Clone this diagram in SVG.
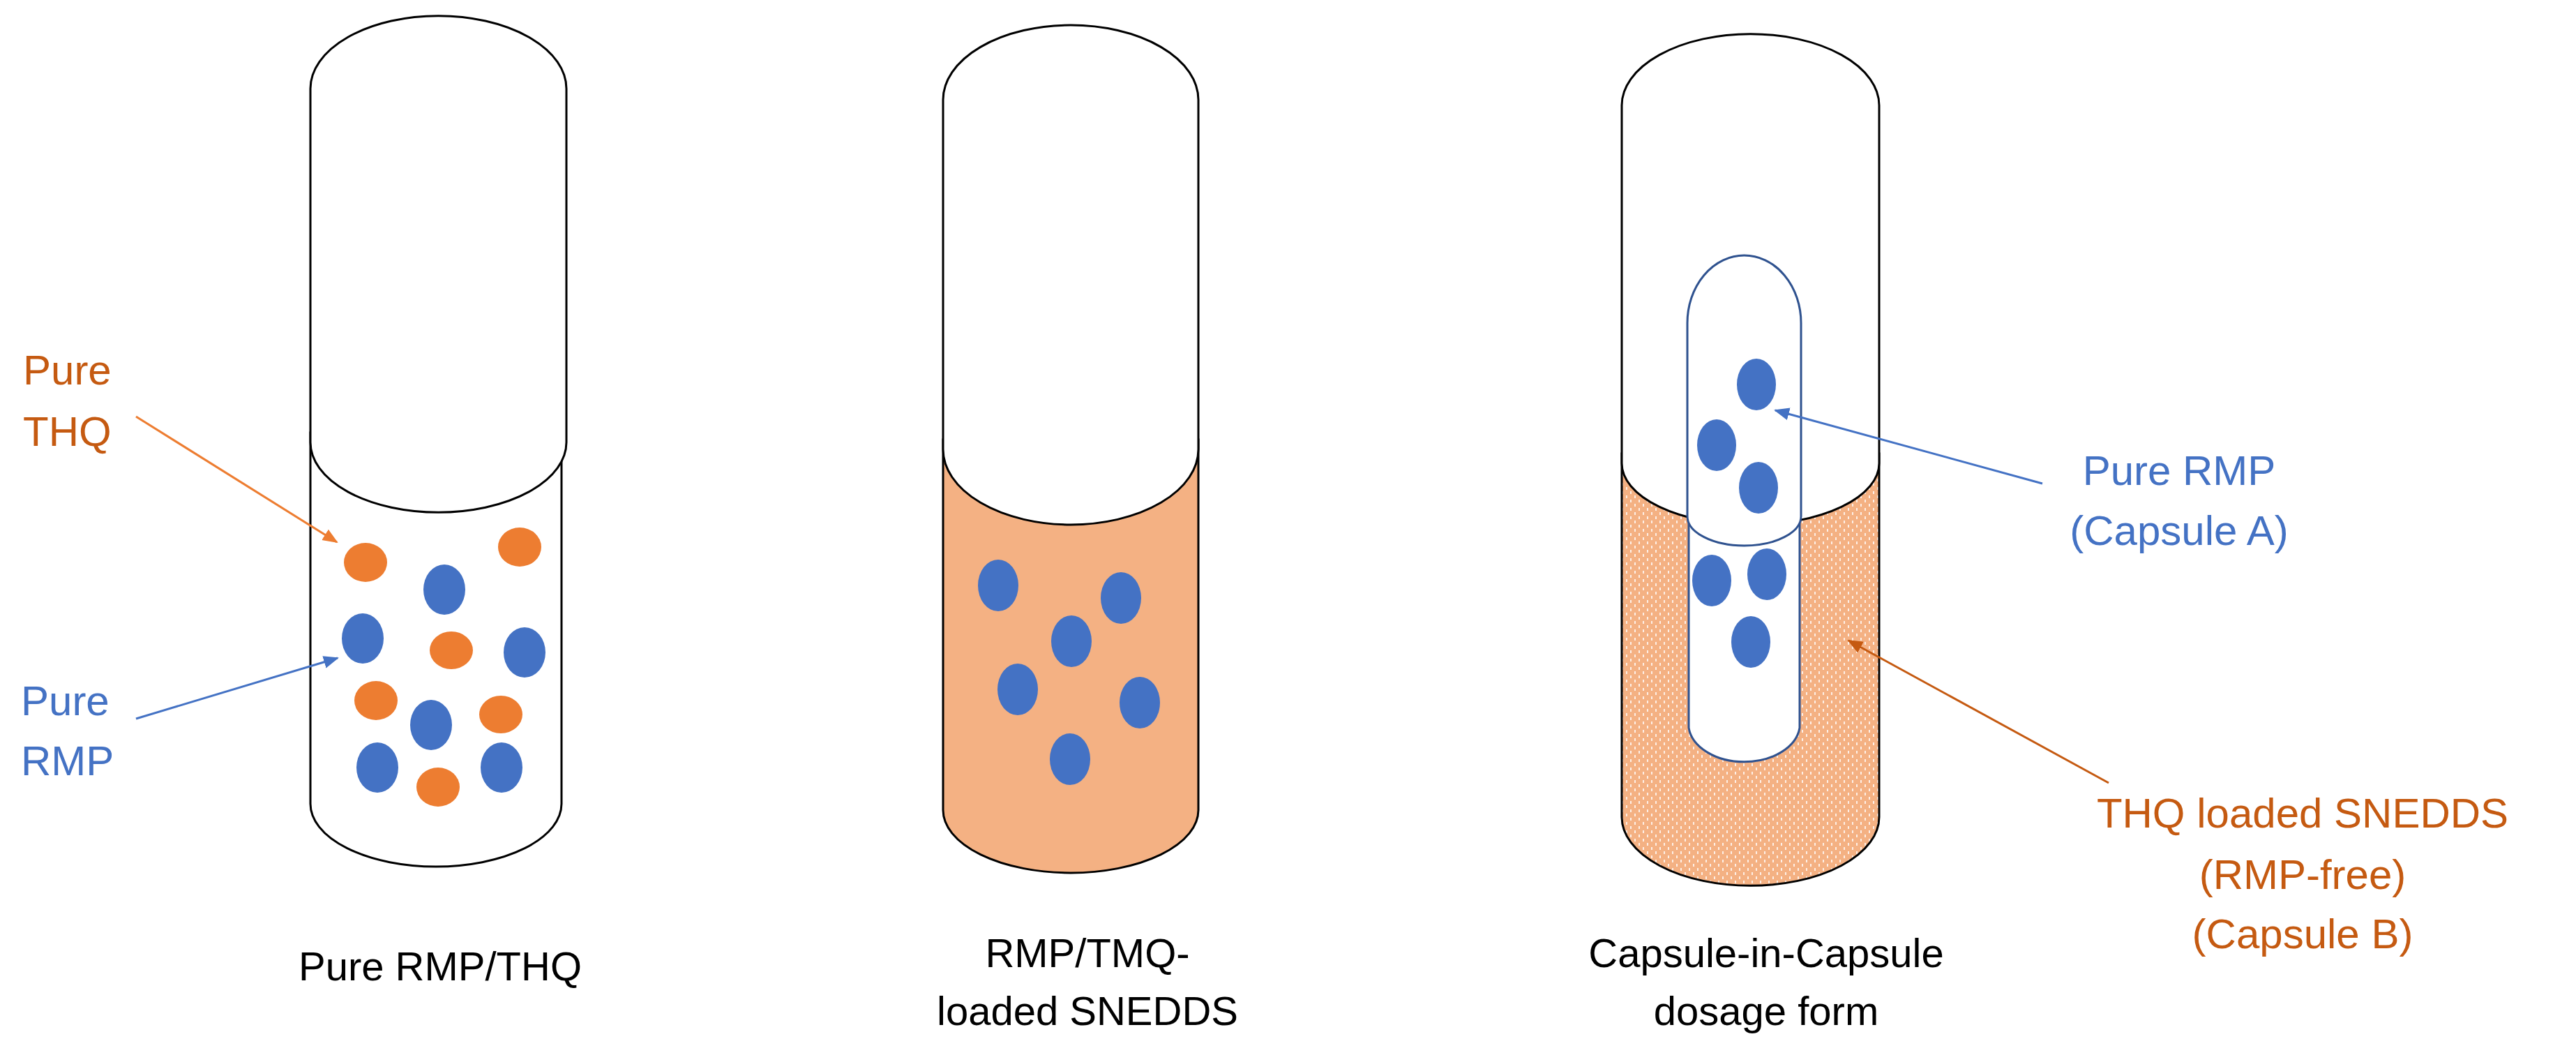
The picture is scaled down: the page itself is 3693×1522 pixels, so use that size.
<svg xmlns="http://www.w3.org/2000/svg" width="3693" height="1522" viewBox="0 0 3693 1522">
<defs>
<pattern id="dots" width="12" height="12" patternUnits="userSpaceOnUse">
<rect width="12" height="12" fill="#F4B183"/>
<rect x="3" y="2" width="2" height="4" fill="#fff" opacity="0.8"/>
<rect x="9" y="8" width="2" height="4" fill="#fff" opacity="0.8"/>
</pattern>
<marker id="ab" markerWidth="22" markerHeight="22" refX="20" refY="11" orient="auto" markerUnits="userSpaceOnUse"><path d="M0,2 L22,11 L0,20 Z" fill="#4472C4"/></marker>
<marker id="ao2" markerWidth="22" markerHeight="22" refX="20" refY="11" orient="auto" markerUnits="userSpaceOnUse"><path d="M0,2 L22,11 L0,20 Z" fill="#ED7D31"/></marker>
<marker id="ad" markerWidth="22" markerHeight="22" refX="20" refY="11" orient="auto" markerUnits="userSpaceOnUse"><path d="M0,2 L22,11 L0,20 Z" fill="#C55A11"/></marker>
</defs>
<style>
.sh{stroke:#000;stroke-width:3}
.b{fill:#4472C4}
.o{fill:#ED7D31}
text{font-family:"Liberation Sans",Arial,sans-serif;font-size:58px}
.lb{fill:#4472C4;font-size:60px}
.lo{fill:#C55A11;font-size:60px}
</style>
<rect width="3693" height="1522" fill="#fff"/>

<g id="capsule1">
<path class="sh" fill="#fff" d="M445,620 L445,1152 A180,90 0 0 0 805,1152 L805,620 Z"/>
<path class="sh" fill="#fff" d="M445,634 L445,127 A183,104 0 0 1 812,127 L812,634 A183,100 0 0 1 445,634 Z"/>
<ellipse class="o" cx="524" cy="806" rx="31" ry="28"/>
<ellipse class="o" cx="745" cy="784" rx="31" ry="28"/>
<ellipse class="o" cx="647" cy="932" rx="31" ry="27"/>
<ellipse class="o" cx="539" cy="1004" rx="31" ry="28"/>
<ellipse class="o" cx="718" cy="1024" rx="31" ry="27"/>
<ellipse class="o" cx="628" cy="1128" rx="31" ry="28"/>
<ellipse class="b" cx="637" cy="845" rx="30" ry="36"/>
<ellipse class="b" cx="520" cy="915" rx="30" ry="36"/>
<ellipse class="b" cx="752" cy="935" rx="30" ry="36"/>
<ellipse class="b" cx="618" cy="1039" rx="30" ry="36"/>
<ellipse class="b" cx="541" cy="1100" rx="30" ry="36"/>
<ellipse class="b" cx="719" cy="1100" rx="30" ry="36"/>
<text x="631" y="1405" text-anchor="middle">Pure RMP/THQ</text>
</g>

<g id="capsule2">
<path class="sh" fill="#F4B183" d="M1352,630 L1352,1161 A183,90 0 0 0 1718,1161 L1718,630 Z"/>
<path class="sh" fill="#fff" d="M1352,644 L1352,143 A183,107 0 0 1 1718,143 L1718,644 A183,108 0 0 1 1352,644 Z"/>
<ellipse class="b" cx="1431" cy="839" rx="29" ry="37"/>
<ellipse class="b" cx="1607" cy="857" rx="29" ry="37"/>
<ellipse class="b" cx="1536" cy="919" rx="29" ry="37"/>
<ellipse class="b" cx="1459" cy="988" rx="29" ry="37"/>
<ellipse class="b" cx="1634" cy="1007" rx="29" ry="37"/>
<ellipse class="b" cx="1534" cy="1088" rx="29" ry="37"/>
<text x="1559" y="1386" text-anchor="middle">RMP/TMQ-</text>
<text x="1559" y="1469" text-anchor="middle">loaded SNEDDS</text>
</g>

<g id="capsule3">
<path class="sh" fill="url(#dots)" d="M2325,650 L2325,1171 A184,98 0 0 0 2694,1171 L2694,650 Z"/>
<path class="sh" fill="#fff" d="M2325,664 L2325,151 A184,102 0 0 1 2694,151 L2694,664 A184,88 0 0 1 2325,664 Z"/>
<path fill="#fff" stroke="#2F528F" stroke-width="3" d="M2421,720 L2421,1043 A80,55 0 0 0 2580,1043 L2580,720 Z"/>
<path fill="#fff" stroke="#2F528F" stroke-width="3" d="M2419,740 L2419,463 A81.5,97 0 0 1 2582,463 L2582,740 A81.5,42 0 0 1 2419,740 Z"/>
<ellipse class="b" cx="2518" cy="551" rx="28" ry="37"/>
<ellipse class="b" cx="2461" cy="638" rx="28" ry="37"/>
<ellipse class="b" cx="2521" cy="699" rx="28" ry="37"/>
<ellipse class="b" cx="2454" cy="832" rx="28" ry="37"/>
<ellipse class="b" cx="2533" cy="823" rx="28" ry="37"/>
<ellipse class="b" cx="2510" cy="920" rx="28" ry="37"/>
<text x="2532" y="1386" text-anchor="middle">Capsule-in-Capsule</text>
<text x="2532" y="1469" text-anchor="middle">dosage form</text>
</g>

<g id="labels">
<text class="lo" x="33" y="551">Pure</text>
<text class="lo" x="33" y="639">THQ</text>
<text class="lb" x="30" y="1025">Pure</text>
<text class="lb" x="30" y="1111">RMP</text>
<text class="lb" x="3124" y="695" text-anchor="middle">Pure RMP</text>
<text class="lb" x="3124" y="781" text-anchor="middle">(Capsule A)</text>
<text class="lo" x="3301" y="1186" text-anchor="middle">THQ loaded SNEDDS</text>
<text class="lo" x="3301" y="1274" text-anchor="middle">(RMP-free)</text>
<text class="lo" x="3301" y="1359" text-anchor="middle">(Capsule B)</text>
</g>

<g id="connectors" fill="none" stroke-width="3">
<line x1="195" y1="597" x2="483" y2="777" stroke="#ED7D31" marker-end="url(#ao2)"/>
<line x1="195" y1="1030" x2="484" y2="943" stroke="#4472C4" marker-end="url(#ab)"/>
<line x1="2928" y1="693" x2="2545" y2="588" stroke="#4472C4" marker-end="url(#ab)"/>
<line x1="3023" y1="1122" x2="2650" y2="918" stroke="#C55A11" marker-end="url(#ad)"/>
</g>
</svg>
